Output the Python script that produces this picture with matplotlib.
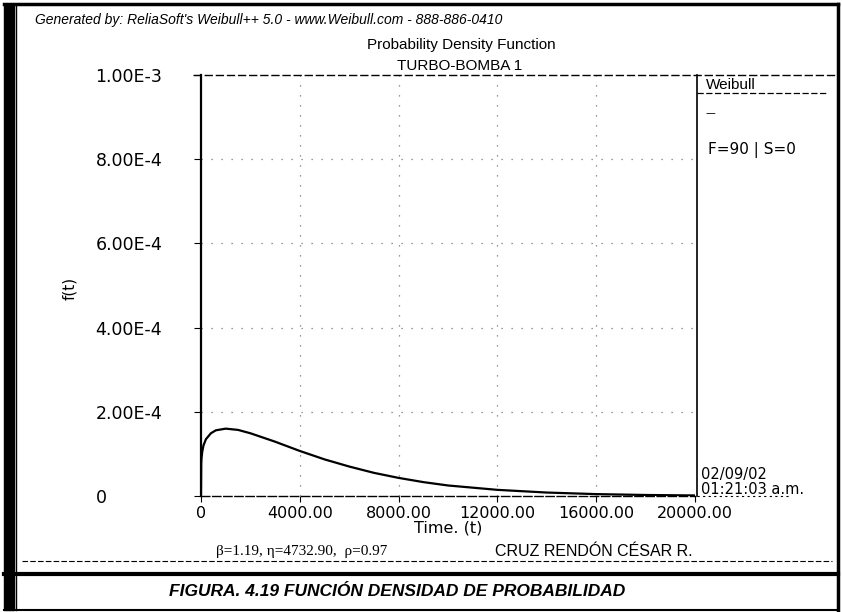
import matplotlib
matplotlib.use("Agg")
import matplotlib.pyplot as plt
from matplotlib.lines import Line2D

# ---- data ----
time_values = [0, 10, 20, 50, 100, 200, 400, 600, 1000, 1500, 2000, 3000, 4000,
               5000, 6000, 7000, 8000, 9000, 10000, 12000, 14000, 16000, 18000, 20000]
pdf_values = [0.0, 7.8e-5, 8.9e-5, 1.05e-4, 1.20e-4, 1.35e-4, 1.49e-4, 1.56e-4,
              1.60e-4, 1.57e-4, 1.49e-4, 1.29e-4, 1.07e-4, 8.7e-5, 7.0e-5,
              5.5e-5, 4.3e-5, 3.3e-5, 2.5e-5, 1.46e-5, 8.2e-6, 4.5e-6, 2.4e-6, 1.3e-6]
x_ticks = [0, 4000, 8000, 12000, 16000, 20000]
x_tick_labels = ["0", "4000.00", "8000.00", "12000.00", "16000.00", "20000.00"]
y_ticks = [0, 2e-4, 4e-4, 6e-4, 8e-4, 1e-3]
y_tick_labels = ["0", "2.00E-4", "4.00E-4", "6.00E-4", "8.00E-4", "1.00E-3"]

W, H = 842, 612
fig = plt.figure(figsize=(W / 100, H / 100), dpi=100)
fig.patch.set_facecolor("white")

def fx(x):
    return x / W

def fy(y):
    return 1 - y / H

def hline(x0, x1, y, lw=1.0, ls="-", color="black"):
    fig.add_artist(Line2D([fx(x0), fx(x1)], [fy(y), fy(y)], transform=fig.transFigure,
                          lw=lw, ls=ls, color=color))

def vline(x, y0, y1, lw=1.0, ls="-", color="black"):
    fig.add_artist(Line2D([fx(x), fx(x)], [fy(y0), fy(y1)], transform=fig.transFigure,
                          lw=lw, ls=ls, color=color))

def text(x, y, s, **kw):
    fig.text(fx(x), fy(y), s, **kw)

# ---- axes ----
L, R, T, B = 201, 695, 75, 496
ax = fig.add_axes([fx(L), fy(B), fx(R) - fx(L), fy(T) - fy(B)])
ax.plot(time_values, pdf_values, color="black", lw=1.6)
ax.set_xlim(0, 20000)
ax.set_ylim(0, 1e-3)
ax.set_xticks(x_ticks)
ax.set_xticklabels(x_tick_labels, fontfamily="DejaVu Sans", fontsize=11.5)
ax.set_yticks(y_ticks)
ax.set_yticklabels(y_tick_labels, fontfamily="DejaVu Sans", fontsize=12.5, ha="left")
ax.tick_params(axis="y", length=5, pad=71, width=0.8)
ax.tick_params(axis="x", length=4, pad=3, width=0.8)
for spine in ["top", "right"]:
    ax.spines[spine].set_visible(False)
ax.spines["left"].set_linewidth(1.6)
ax.spines["bottom"].set_linestyle((0, (6, 2)))
ax.spines["bottom"].set_linewidth(1.0)
for yv in y_ticks[1:-1]:
    ax.axhline(yv, color="#777777", lw=0.9, ls=(0, (1, 7)))
for xv in x_ticks[1:-1]:
    ax.axvline(xv, color="#777777", lw=0.9, ls=(0, (1, 7)))
ax.set_xlabel("Time. (t)", fontfamily="DejaVu Sans", fontsize=11.5, labelpad=0)
ax.set_ylabel("f(t)", fontfamily="DejaVu Sans", fontsize=11)
ax.yaxis.set_label_coords((77 - L) / (R - L), (B - 288) / (B - T))

# top dashed line, right border
hline(193, 838, T, lw=1.0, ls=(0, (6, 2)))
vline(697, T, B, lw=1.2)

# ---- frame ----
fig.add_artist(plt.Rectangle((fx(4), fy(610)), fx(10), fy(4) - fy(610),
                             transform=fig.transFigure, color="black"))
vline(16, 4, 610, lw=1.0)
vline(838, 4, 610, lw=2.5)
hline(4, 838, 4, lw=2.5)
hline(4, 838, 574, lw=3.0)
hline(4, 838, 610, lw=1.5)

# ---- texts ----
text(35, 20, "Generated by: ReliaSoft's Weibull++ 5.0 - www.Weibull.com - 888-886-0410",
     fontsize=10, style="italic", family="Liberation Sans", va="center", ha="left")
text(461, 45, "Probability Density Function", fontsize=11, family="Liberation Sans",
     va="center", ha="center")
text(460, 66, "TURBO-BOMBA 1", fontsize=11, family="Liberation Sans",
     va="center", ha="center")

# legend panel
text(706, 85, "Weibull", fontsize=11, family="Liberation Sans", va="center", ha="left")
hline(697, 826, 93, lw=0.9, ls=(0, (5, 2)))
text(706, 113, "\u2014", fontsize=7, family="DejaVu Sans", va="center", ha="left")
text(708, 150, "F=90 | S=0", fontsize=11, family="DejaVu Sans", va="center", ha="left")

# date stamp
text(701, 475, "02/09/02", fontsize=10.5, family="DejaVu Sans", va="center", ha="left")
text(701, 490, "01:21:03 a.m.", fontsize=10.5, family="DejaVu Sans", va="center", ha="left")
hline(697, 790, 496, lw=0.8, ls=(0, (2, 3)))

# parameters / author line
hline(22, 832, 561, lw=0.8, ls=(0, (5, 2)))
text(302, 551, "\u03b2=1.19, \u03b7=4732.90,  \u03c1=0.97", fontsize=11,
     family="Liberation Serif", va="center", ha="center")
text(594, 551, "CRUZ REND\u00d3N C\u00c9SAR R.", fontsize=11.5, family="Liberation Sans",
     va="center", ha="center")

# caption
text(397, 592, "FIGURA. 4.19 FUNCI\u00d3N DENSIDAD DE PROBABILIDAD", fontsize=12.5,
     family="Liberation Sans", weight="bold", style="italic", va="center", ha="center")

fig.savefig("out.png", dpi=100)
